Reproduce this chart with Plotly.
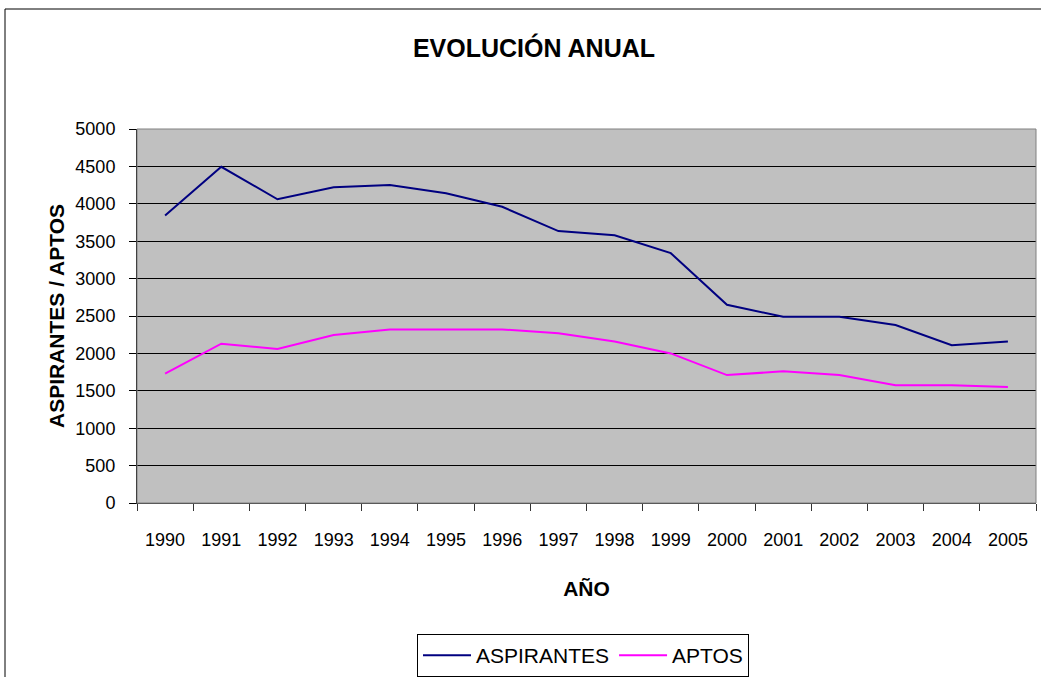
import plotly.graph_objects as go

years = ["1990", "1991", "1992", "1993", "1994", "1995", "1996", "1997",
         "1998", "1999", "2000", "2001", "2002", "2003", "2004", "2005"]
aspirantes = [3845, 4495, 4060, 4220, 4250, 4140, 3960, 3635,
              3580, 3340, 2650, 2490, 2490, 2380, 2110, 2160]
aptos = [1730, 2130, 2060, 2245, 2320, 2320, 2320, 2270,
         2160, 2000, 1710, 1760, 1710, 1575, 1575, 1550]

FONT = "Liberation Sans, Arial, sans-serif"
W, H = 1041, 677
L, R, T, B = 137, 1036, 129, 503   # plot area in pixels
PW, PH = R - L, B - T


def px(x):
    return (x - L) / PW


def py(y):
    return (B - y) / PH


fig = go.Figure()
fig.add_trace(go.Scatter(x=years, y=aspirantes, mode="lines", name="ASPIRANTES",
                         line=dict(color="#000080", width=2)))
fig.add_trace(go.Scatter(x=years, y=aptos, mode="lines", name="APTOS",
                         line=dict(color="#FF00FF", width=2)))

fig.update_layout(
    width=W, height=H,
    margin=dict(l=L, r=W - R, t=T, b=H - B, autoexpand=False),
    paper_bgcolor="white",
    plot_bgcolor="#C0C0C0",
    font=dict(family=FONT, size=18, color="black"),
    title=dict(text="<b>EVOLUCIÓN ANUAL</b>", x=534 / W, xanchor="center",
               y=1 - 48 / H, yanchor="middle",
               font=dict(family=FONT, size=25, color="black")),
    showlegend=True,
    legend=dict(orientation="h", x=px(417), xanchor="left",
                y=py(634), yanchor="top",
                bordercolor="black", borderwidth=1, bgcolor="white",
                font=dict(family=FONT, size=21, color="black"),
                itemwidth=48, tracegroupgap=0),
    xaxis=dict(type="category", showgrid=False, ticks="outside", ticklen=7,
               tickson="boundaries", tickcolor="#333333", showline=True,
               linecolor="#333333", linewidth=1, mirror=False,
               ticklabelstandoff=20, automargin=False,
               tickfont=dict(family=FONT, size=18, color="black"),
               title=dict(text="<b>AÑO</b>", standoff=32,
                          font=dict(family=FONT, size=21, color="black")),
               range=[-0.5, 15.5]),
    yaxis=dict(range=[0, 5000], dtick=500, showgrid=True, gridcolor="black",
               gridwidth=1, ticks="outside", ticklen=7, tickcolor="black",
               showline=True, linecolor="black", linewidth=1, zeroline=False,
               ticklabelstandoff=10, automargin=False,
               tickfont=dict(family=FONT, size=18, color="black"),
               title=dict(text="<b>ASPIRANTES / APTOS</b>", standoff=5,
                          font=dict(family=FONT, size=21, color="black"))),
)

# gray plot border top/right
fig.add_shape(type="rect", xref="paper", yref="paper", x0=0, x1=1, y0=0, y1=1,
              line=dict(color="#808080", width=1), layer="above")
# outer chart border
fig.add_shape(type="rect", xref="paper", yref="paper",
              x0=px(5), x1=px(1060), y0=py(720), y1=py(9),
              line=dict(color="black", width=1), layer="below")

fig.write_html("out.html", config={"displayModeBar": False},
               post_script="document.body.style.margin='0';")
